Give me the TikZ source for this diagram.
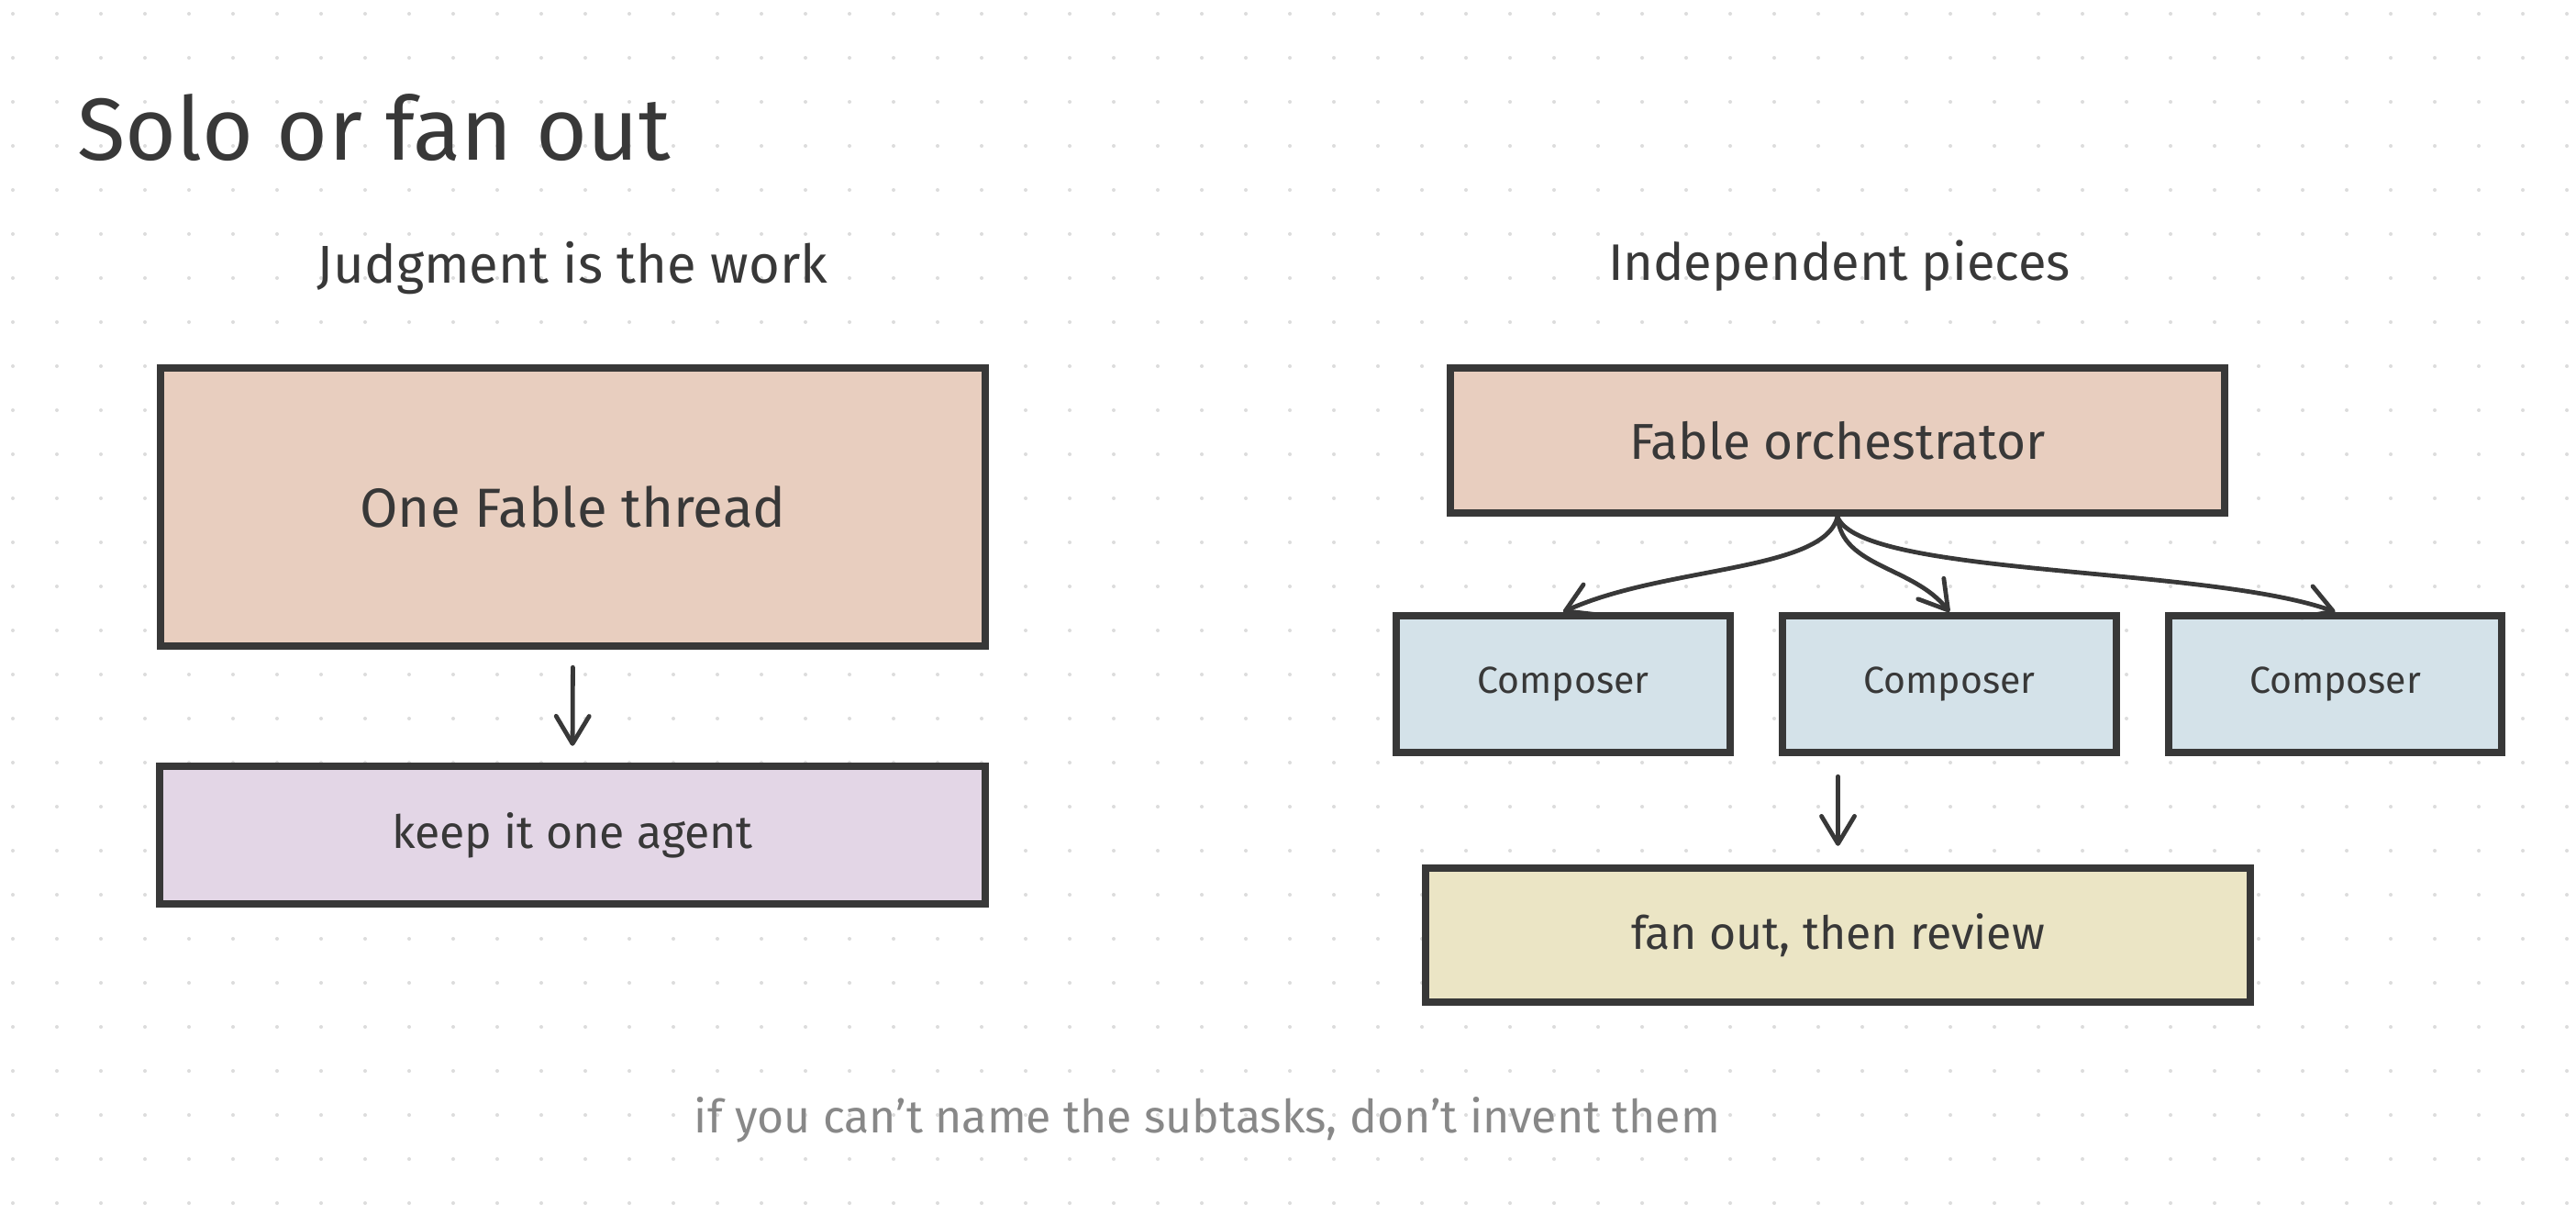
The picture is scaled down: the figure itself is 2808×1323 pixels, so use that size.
\documentclass[tikz,border=0pt]{standalone}
\usepackage{fontspec}
\setmainfont{Fira Sans}
\usetikzlibrary{arrows.meta}
\definecolor{ink}{HTML}{383838}
\definecolor{peach}{HTML}{E8CEBF}
\definecolor{lavender}{HTML}{E3D6E6}
\definecolor{paleblue}{HTML}{D4E2E9}
\definecolor{khaki}{HTML}{EBE5C5}
\definecolor{dotc}{HTML}{DCDCDC}
\definecolor{footc}{HTML}{888888}
\tikzset{
  box/.style={draw=ink, line width=4.2pt, rectangle, inner sep=0pt, text=ink},
  conn/.style={draw=ink, line width=2.4pt, line cap=round, -{Straight Barb[length=15pt,width=18pt,line width=2.4pt,round]}},
  heading/.style={text=ink, inner sep=0pt}
}
\begin{document}
\begin{tikzpicture}[x=0.5pt,y=-0.5pt]
\useasboundingbox (0,0) rectangle (2808,1323);
\fill[white] (0,0) rectangle (2808,1323);
\foreach \i in {0,...,58}{
  \foreach \j in {0,...,27}{
    \fill[dotc] ({14+48*\i},{15+48*\j}) circle (2);
  }
}
% title and headings
\node[heading, anchor=base west, font=\fontsize{48pt}{54pt}\selectfont] (title) at (84,174) {Solo or fan out};
\node[heading, font=\fontsize{29pt}{34pt}\selectfont] (hleft) at (624,292) {Judgment is the work};
\node[heading, font=\fontsize{28pt}{34pt}\selectfont] (hright) at (2005,290) {Independent pieces};
% left column
\node[box, fill=peach, minimum width=449.5pt, minimum height=151.5pt, font=\fontsize{30pt}{36pt}\selectfont] (one) at (624.5,552.5) {One Fable thread};
\node[box, fill=lavender, minimum width=450pt, minimum height=75pt, font=\fontsize{25pt}{30pt}\selectfont] (keep) at (624,910) {keep it one agent};
\draw[conn, shorten <=19pt/2, shorten >=18pt/2] (one.south) -- (keep.north);
% right column
\node[box, fill=peach, minimum width=422pt, minimum height=79pt, font=\fontsize{27.5pt}{32pt}\selectfont] (orch) at (2003,480) {Fable orchestrator};
\node[box, fill=paleblue, minimum width=182pt, minimum height=74.5pt, font=\fontsize{20.5pt}{25pt}\selectfont] (c1) at (1704,745.5) {Composer};
\node[box, fill=paleblue, minimum width=182pt, minimum height=74.5pt, font=\fontsize{20.5pt}{25pt}\selectfont] (c2) at (2125,745.5) {Composer};
\node[box, fill=paleblue, minimum width=181.5pt, minimum height=74.5pt, font=\fontsize{20.5pt}{25pt}\selectfont] (c3) at (2545.5,745.5) {Composer};
\node[box, fill=khaki, minimum width=449.5pt, minimum height=73pt, font=\fontsize{25pt}{30pt}\selectfont] (rev) at (2003.5,1019) {fan out, then review};
\draw[conn] (orch.south) .. controls +(-15,60) and +(110,-50) .. (c1.north);
\draw[conn] (orch.south) .. controls +(5,55) and +(-40,-50) .. (c2.north);
\draw[conn] (orch.south) .. controls +(25,65) and +(-140,-50) .. (c3.north);
\draw[conn, shorten <=11pt, shorten >=10pt] (rev.north |- c2.south) -- (rev.north);
% footer
\node[heading, text=footc, font=\fontsize{25pt}{30pt}\selectfont] (foot) at (1316,1220) {if you can't name the subtasks, don't invent them};
\end{tikzpicture}
\end{document}
